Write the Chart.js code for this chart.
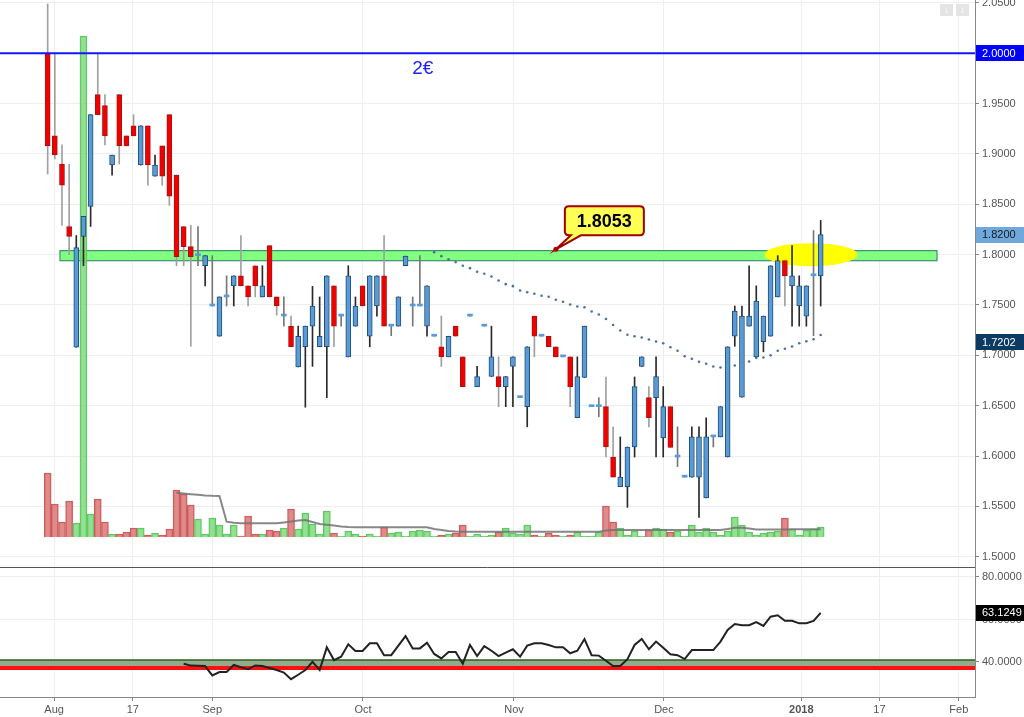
<!DOCTYPE html>
<html>
<head>
<meta charset="utf-8">
<title>Candlestick chart with volume and RSI</title>
<style>
    body { margin: 0; background: #fff; }
    #priceChart { position: absolute; left: 0; top: 0; }
    #rsiChart { position: absolute; left: 0; top: 567px; }
</style>
<script src="https://cdn.jsdelivr.net/npm/chart.js"></script>
</head>
<body>
<canvas id="priceChart" width="1024" height="567"></canvas>
<canvas id="rsiChart" width="1024" height="150"></canvas>
<script>
// daily candles, one per trading day (index 0 = first bar, end of July 2017)
const opens = [2.000, 1.918, 1.890, 1.828, 1.708, 1.818, 1.848, 1.959, 1.948, 1.889,
    1.959, 1.918, 1.928, 1.889, 1.928, 1.878, 1.908, 1.939, 1.879, 1.828,
    1.808, 1.799, 1.789, 1.749, 1.719, 1.758, 1.769, 1.779, 1.769, 1.789,
    1.758, 1.809, 1.758, 1.739, 1.729, 1.6885, 1.7085, 1.729, 1.7085, 1.7085,
    1.769, 1.739, 1.6985, 1.729, 1.769, 1.719, 1.749, 1.779, 1.729, 1.729,
    1.789, 1.749, 1.749, 1.729, 1.719, 1.7085, 1.6985, 1.729, 1.6985, 1.739,
    1.669, 1.729, 1.679, 1.679, 1.669, 1.689, 1.658, 1.649, 1.739, 1.719,
    1.719, 1.7085, 1.6985, 1.6985, 1.638, 1.678, 1.649, 1.649, 1.649, 1.599,
    1.5695, 1.5695, 1.609, 1.689, 1.658, 1.658, 1.618, 1.649, 1.599, 1.579,
    1.579, 1.579, 1.5585, 1.619, 1.619, 1.599, 1.719, 1.6585, 1.729, 1.6985,
    1.7135, 1.719, 1.758, 1.794, 1.769, 1.749, 1.739, 1.779, 1.779];
const highs = [2.049, 1.999, 1.909, 1.890, 1.819, 1.838, 1.939, 1.999, 1.959, 1.899,
    1.959, 1.918, 1.939, 1.928, 1.928, 1.899, 1.908, 1.939, 1.879, 1.828,
    1.829, 1.828, 1.799, 1.799, 1.758, 1.779, 1.779, 1.819, 1.769, 1.789,
    1.789, 1.809, 1.758, 1.758, 1.739, 1.729, 1.729, 1.7685, 1.758, 1.779,
    1.769, 1.739, 1.789, 1.758, 1.769, 1.779, 1.779, 1.819, 1.729, 1.758,
    1.7985, 1.758, 1.799, 1.769, 1.719, 1.739, 1.719, 1.729, 1.6985, 1.739,
    1.689, 1.729, 1.729, 1.6985, 1.679, 1.6985, 1.658, 1.7085, 1.739, 1.719,
    1.719, 1.7085, 1.6985, 1.6985, 1.6985, 1.729, 1.649, 1.658, 1.6785, 1.629,
    1.619, 1.609, 1.6785, 1.6985, 1.669, 1.6985, 1.669, 1.649, 1.629, 1.579,
    1.629, 1.629, 1.638, 1.619, 1.649, 1.7085, 1.749, 1.749, 1.789, 1.769,
    1.739, 1.789, 1.799, 1.794, 1.809, 1.779, 1.769, 1.824, 1.834];
const lows = [1.880, 1.895, 1.829, 1.800, 1.708, 1.789, 1.828, 1.939, 1.909, 1.879,
    1.890, 1.908, 1.918, 1.889, 1.869, 1.878, 1.869, 1.849, 1.789, 1.789,
    1.709, 1.789, 1.769, 1.749, 1.719, 1.749, 1.749, 1.769, 1.749, 1.758,
    1.758, 1.758, 1.740, 1.729, 1.7085, 1.6885, 1.6485, 1.689, 1.7085, 1.658,
    1.7085, 1.729, 1.6985, 1.729, 1.749, 1.7085, 1.739, 1.729, 1.7195, 1.729,
    1.789, 1.729, 1.749, 1.719, 1.719, 1.689, 1.6985, 1.719, 1.669, 1.739,
    1.669, 1.729, 1.679, 1.649, 1.649, 1.649, 1.658, 1.629, 1.6985, 1.719,
    1.7085, 1.6985, 1.6985, 1.649, 1.638, 1.678, 1.649, 1.639, 1.599, 1.579,
    1.5695, 1.549, 1.599, 1.689, 1.629, 1.599, 1.599, 1.6085, 1.5895, 1.579,
    1.579, 1.539, 1.5585, 1.609, 1.619, 1.599, 1.709, 1.6585, 1.729, 1.6985,
    1.7035, 1.719, 1.758, 1.749, 1.729, 1.729, 1.729, 1.7195, 1.749];
const closes = [1.908, 1.899, 1.869, 1.818, 1.807, 1.838, 1.939, 1.939, 1.918, 1.899,
    1.908, 1.908, 1.918, 1.928, 1.889, 1.889, 1.878, 1.858, 1.798, 1.808,
    1.798, 1.799, 1.799, 1.749, 1.758, 1.758, 1.779, 1.769, 1.758, 1.769,
    1.769, 1.758, 1.749, 1.739, 1.7085, 1.719, 1.729, 1.749, 1.719, 1.779,
    1.729, 1.739, 1.779, 1.749, 1.749, 1.779, 1.779, 1.729, 1.729, 1.758,
    1.7985, 1.749, 1.749, 1.769, 1.719, 1.6985, 1.719, 1.719, 1.669, 1.739,
    1.679, 1.729, 1.6985, 1.669, 1.679, 1.6985, 1.658, 1.7085, 1.719, 1.719,
    1.7085, 1.6985, 1.6985, 1.669, 1.679, 1.729, 1.649, 1.649, 1.609, 1.579,
    1.579, 1.609, 1.669, 1.6985, 1.638, 1.679, 1.649, 1.6085, 1.599, 1.579,
    1.619, 1.619, 1.619, 1.619, 1.649, 1.7085, 1.744, 1.739, 1.739, 1.754,
    1.739, 1.789, 1.794, 1.779, 1.779, 1.769, 1.769, 1.779, 1.820];

// volume (relative units), same bars
const volume = [64, 33, 15, 36, 14, 501, 23, 38, 15, 3,
    3, 5, 9, 9, 2, 4, 2, 8, 47, 43,
    32, 18, 3, 19, 12, 3, 12, 1, 21, 3,
    3, 7, 6, 9, 28, 8, 24, 13, 3, 26,
    4, 1, 6, 3, 1, 3, 1, 10, 4, 5,
    1, 6, 7, 6, 1, 2, 3, 4, 12, 1,
    3, 1, 2, 5, 9, 4, 3, 12, 2, 1,
    4, 2, 1, 2, 5, 1, 1, 5, 31, 15,
    9, 2, 6, 1, 7, 9, 8, 5, 6, 1,
    12, 5, 9, 5, 2, 6, 20, 12, 5, 2,
    4, 5, 6, 19, 8, 2, 7, 8, 10];

// volume moving average, starts at bar 18
const volMAStart = 18;
const volMA = [44.3, 43.5, 42.8, 42.2, 41.6, 41.2, 41.0, 15.3, 14.2, 13.7,
    13.7, 13.7, 13.7, 13.7, 13.7, 14.6, 15.6, 16.5, 17.0, 15.0,
    13.0, 12.3, 11.5, 10.6, 10.0, 9.7, 9.7, 9.7, 9.7, 9.7,
    9.7, 9.7, 9.7, 9.7, 9.7, 9.7, 8.0, 7.0, 6.0, 5.4,
    5.3, 5.3, 5.3, 5.3, 5.3, 5.3, 5.3, 5.3, 5.3, 5.3,
    5.3, 5.3, 5.3, 5.3, 5.3, 5.3, 5.3, 5.3, 5.3, 5.3,
    6.5, 7.0, 7.0, 7.0, 7.0, 7.0, 7.0, 7.0, 7.0, 7.0,
    7.0, 7.0, 7.0, 7.0, 7.0, 7.0, 7.0, 8.0, 9.3, 9.3,
    8.5, 7.5, 7.5, 7.5, 7.5, 7.5, 7.7, 7.7, 7.7, 7.7, 7.7];

// dotted price moving average, starts at bar 54
const maStart = 54;
const priceMA = [1.8025, 1.7985, 1.7955, 1.7926, 1.7890, 1.7866, 1.7830, 1.7810, 1.7783, 1.7744,
    1.7707, 1.7687, 1.7644, 1.7627, 1.7611, 1.7592, 1.7582, 1.7552, 1.7532, 1.7505,
    1.7485, 1.7478, 1.7436, 1.7406, 1.7361, 1.7301, 1.7247, 1.7204, 1.7190, 1.7177,
    1.7157, 1.7137, 1.7120, 1.7081, 1.7045, 1.6991, 1.6965, 1.6936, 1.6916, 1.6889,
    1.6879, 1.6889, 1.6899, 1.6919, 1.6939, 1.6975, 1.6978, 1.7001, 1.7045, 1.7065,
    1.7088, 1.7120, 1.7140, 1.7160, 1.7202];

// RSI, starts at bar 19
const rsiStart = 19;
const rsi = [39.2, 38.3, 38.2, 38.1, 33.7, 35.3, 35.3, 38.6, 37.5, 36.6,
    38.4, 38.1, 37.2, 36.2, 35.0, 31.9, 34.0, 36.2, 40.1, 36.2,
    46.9, 40.9, 42.5, 48.3, 45.2, 45.2, 48.8, 48.8, 43.2, 43.2,
    47.7, 52.2, 46.4, 46.4, 49.1, 43.8, 41.7, 44.7, 44.7, 39.2,
    48.0, 42.8, 47.5, 45.3, 42.8, 44.4, 46.0, 42.5, 47.7, 48.8,
    48.8, 48.0, 46.9, 46.9, 44.1, 45.3, 50.8, 43.2, 43.0, 40.6,
    38.1, 38.1, 41.3, 48.0, 50.8, 46.0, 49.6, 46.7, 43.6, 43.2,
    41.4, 45.6, 45.6, 45.6, 45.6, 49.6, 55.1, 57.9, 57.3, 57.3,
    58.8, 57.0, 61.3, 62.0, 59.4, 59.4, 58.2, 58.2, 59.3, 63.1249];

// axis ticks
const priceTicks = [1.50, 1.55, 1.60, 1.65, 1.70, 1.75, 1.80, 1.85, 1.90, 1.95, 2.00, 2.05];
const rsiTicks = [40, 60, 80];
const dateTickPos = [0.9, 11.9, 23, 44.05, 65.15, 86.1, 105.3, 116.2, 127.3];
const dateTickLabels = ['Aug', '17', 'Sep', 'Oct', 'Nov', 'Dec', '2018', '17', 'Feb'];

// drawn levels / notes
const levelPrice = 2.0;
const levelText = '2€';
const zoneLow = 1.794, zoneHigh = 1.804;
const zoneFrom = 1.72, zoneTo = 124.25;
const calloutBar = 71.0, calloutPrice = 1.8053;
const lastClose = closes[closes.length - 1];
const lastMA = priceMA[priceMA.length - 1];
const rsiZone = [38.1, 40.9];
const rsiRedLevel = 37.2;

const FONT = '"Liberation Sans", Arial, sans-serif';
Chart.defaults.font.family = FONT;
Chart.defaults.animation = false;

const bars = opens.map((_, i) => i);
const dir = i => closes[i] > opens[i] ? 1 : (closes[i] < opens[i] ? -1 : 0);

const xMin = -6.66, xMax = 129.56;

// kill the extra room chart.js keeps for half-labels at the edges
function noPad(s) {
    s.paddingTop = 0;
    s.paddingBottom = 0;
    s.paddingLeft = 0;
    s.paddingRight = 0;
}

function xAxis(withLabels) {
    return {
        type: 'linear',
        min: xMin,
        max: xMax,
        offset: false,
        afterBuildTicks: s => { s.ticks = dateTickPos.map(v => ({ value: v })); },
        grid: { color: '#eeeeee', offset: false, drawTicks: withLabels, tickLength: 4, tickColor: '#888' },
        border: { display: withLabels, color: '#888' },
        ticks: {
            display: withLabels,
            autoSkip: false,
            maxRotation: 0,
            padding: 2,
            color: '#555',
            font: c => ({ family: FONT, size: 11, weight: c.index === 6 ? 'bold' : 'normal' }),
            callback: (v, i) => dateTickLabels[i]
        },
        afterFit: s => { s.height = withLabels ? 20 : 0; noPad(s); }
    };
}

function yAxis(min, max, tickValues) {
    return {
        position: 'right',
        min: min,
        max: max,
        afterBuildTicks: s => { s.ticks = tickValues.map(v => ({ value: v })); },
        ticks: { color: '#555', padding: 3, font: { size: 11 }, callback: v => v.toFixed(4) },
        grid: { color: '#eeeeee', tickLength: 4, tickColor: '#888' },
        border: { color: '#888' },
        afterFit: s => { s.width = 49; noPad(s); }
    };
}

function priceTag(ctx, yPix, text, bg, fg) {
    ctx.fillStyle = bg;
    ctx.fillRect(976, Math.round(yPix - 8), 48, 16);
    ctx.fillStyle = fg;
    ctx.font = '11px ' + FONT;
    ctx.textAlign = 'left';
    ctx.textBaseline = 'middle';
    ctx.fillText(text, 982, yPix + 0.5);
}

const priceDecor = {
    id: 'priceDecor',
    beforeDatasetsDraw(chart) {
        const { ctx, scales: { x, y } } = chart;
        ctx.save();
        // support zone
        const x0 = x.getPixelForValue(zoneFrom), x1 = x.getPixelForValue(zoneTo);
        const y0 = y.getPixelForValue(zoneHigh), y1 = y.getPixelForValue(zoneLow);
        ctx.fillStyle = '#80ff80';
        ctx.fillRect(x0, y0, x1 - x0, y1 - y0);
        ctx.strokeStyle = '#3f8f6f';
        ctx.lineWidth = 1.2;
        ctx.strokeRect(x0, y0, x1 - x0, y1 - y0);
        // yellow highlight
        const ex = x.getPixelForValue(106.65), ey = y.getPixelForValue(1.8);
        ctx.fillStyle = '#ffff00';
        ctx.beginPath();
        ctx.ellipse(ex, ey, 46.5, 11.5, 0, 0, Math.PI * 2);
        ctx.fill();
        ctx.restore();
    },
    afterDatasetsDraw(chart) {
        const { ctx, chartArea: a, scales: { x, y } } = chart;
        ctx.save();
        // 2€ level
        const ly = y.getPixelForValue(levelPrice);
        ctx.strokeStyle = '#1515ff';
        ctx.lineWidth = 2;
        ctx.beginPath();
        ctx.moveTo(a.left, ly);
        ctx.lineTo(a.right, ly);
        ctx.stroke();
        ctx.fillStyle = '#2020ff';
        ctx.font = '19px ' + FONT;
        ctx.textAlign = 'center';
        ctx.textBaseline = 'middle';
        ctx.fillText(levelText, x.getPixelForValue(52.4), ly + 15);

        // callout
        const ax = x.getPixelForValue(calloutBar), ay = y.getPixelForValue(calloutPrice);
        const bx = ax + 9, by = ay - 43, bw = 79, bh = 29, r = 4;
        ctx.beginPath();
        ctx.moveTo(bx + r, by);
        ctx.lineTo(bx + bw - r, by);
        ctx.quadraticCurveTo(bx + bw, by, bx + bw, by + r);
        ctx.lineTo(bx + bw, by + bh - r);
        ctx.quadraticCurveTo(bx + bw, by + bh, bx + bw - r, by + bh);
        ctx.lineTo(bx + 16, by + bh);
        ctx.lineTo(ax, ay);
        ctx.lineTo(bx + 6, by + bh);
        ctx.lineTo(bx + r, by + bh);
        ctx.quadraticCurveTo(bx, by + bh, bx, by + bh - r);
        ctx.lineTo(bx, by + r);
        ctx.quadraticCurveTo(bx, by, bx + r, by);
        ctx.closePath();
        ctx.fillStyle = '#ffff55';
        ctx.fill();
        ctx.strokeStyle = '#a00000';
        ctx.lineWidth = 2;
        ctx.stroke();
        ctx.fillStyle = '#b00000';
        ctx.beginPath();
        ctx.arc(ax, ay, 2.5, 0, Math.PI * 2);
        ctx.fill();
        ctx.fillStyle = '#000';
        ctx.font = 'bold 18px ' + FONT;
        ctx.fillText(calloutPrice.toFixed(4), bx + bw / 2, by + bh / 2 + 1);
        ctx.restore();
    },
    afterDraw(chart) {
        const { ctx, scales: { y } } = chart;
        ctx.save();
        priceTag(ctx, y.getPixelForValue(levelPrice), levelPrice.toFixed(4), '#0000ff', '#fff');
        priceTag(ctx, y.getPixelForValue(lastClose), lastClose.toFixed(4), '#6fa8dc', '#1a1a1a');
        priceTag(ctx, y.getPixelForValue(lastMA) + 7, lastMA.toFixed(4), '#0b3a63', '#fff');
        // small buttons top right
        ctx.fillStyle = '#e4e4e4';
        ctx.fillRect(940, 4, 13, 12);
        ctx.fillRect(956, 4, 13, 12);
        ctx.fillStyle = '#fff';
        ctx.font = '10px ' + FONT;
        ctx.textAlign = 'center';
        ctx.textBaseline = 'middle';
        ctx.fillText('↓', 946.5, 10);
        ctx.fillText('↕', 962.5, 10);
        ctx.restore();
    }
};

new Chart(document.getElementById('priceChart'), {
    type: 'bar',
    data: {
        datasets: [
            {
                label: 'bodies',
                order: 1,
                grouped: false,
                barThickness: 5,
                minBarLength: 2,
                borderSkipped: false,
                data: bars.map(i => ({ x: i, y: [opens[i], closes[i]] })),
                backgroundColor: bars.map(i => dir(i) < 0 ? '#f20000' : '#5b9bd5'),
                borderColor: bars.map(i => dir(i) > 0 ? '#1f4e79' : (dir(i) < 0 ? '#a31515' : 'rgba(0,0,0,0)')),
                borderWidth: bars.map(i => dir(i) === 0 ? 0 : 1)
            },
            {
                label: 'wicks',
                order: 2,
                grouped: false,
                barThickness: 1,
                data: bars.map(i => ({ x: i, y: [lows[i], highs[i]] })),
                backgroundColor: bars.map(i => dir(i) > 0 ? '#2a2a2a' : (dir(i) < 0 ? '#a0a0a0' : '#777'))
            },
            {
                type: 'line',
                label: 'MA',
                order: 3,
                showLine: false,
                pointRadius: 1.3,
                pointBorderWidth: 0,
                pointBackgroundColor: '#4a72a0',
                data: priceMA.map((v, k) => ({ x: maStart + k, y: v }))
            },
            {
                type: 'line',
                label: 'volume MA',
                yAxisID: 'yv',
                order: 9,
                borderColor: 'rgba(115,115,115,0.85)',
                borderWidth: 2,
                pointRadius: 0,
                data: volMA.map((v, k) => ({ x: volMAStart + k, y: v }))
            },
            {
                label: 'volume',
                yAxisID: 'yv',
                order: 10,
                grouped: false,
                barThickness: 7,
                borderSkipped: 'start',
                borderWidth: 1,
                data: bars.map(i => ({ x: i, y: volume[i] })),
                backgroundColor: bars.map(i => dir(i) < 0 ? 'rgba(215,110,110,0.8)' : 'rgba(120,215,120,0.8)'),
                borderColor: bars.map(i => dir(i) < 0 ? '#cf5a5a' : '#5cc65c')
            }
        ]
    },
    options: {
        responsive: false,
        layout: { padding: 0, autoPadding: false },
        plugins: { legend: { display: false }, tooltip: { enabled: false } },
        scales: {
            x: xAxis(false),
            y: yAxis(1.4898, 2.0529, priceTicks),
            yv: { display: false, min: -30, max: 537 }
        }
    },
    plugins: [priceDecor]
});

const rsiDecor = {
    id: 'rsiDecor',
    beforeDatasetsDraw(chart) {
        const { ctx, chartArea: a, scales: { y } } = chart;
        ctx.save();
        const t = y.getPixelForValue(rsiZone[1]), b = y.getPixelForValue(rsiZone[0]);
        ctx.fillStyle = '#93aa8b';
        ctx.fillRect(a.left, t, a.right - a.left, b - t);
        ctx.strokeStyle = '#2d5b20';
        ctx.lineWidth = 1.5;
        ctx.beginPath();
        ctx.moveTo(a.left, t);
        ctx.lineTo(a.right, t);
        ctx.stroke();
        const ry = y.getPixelForValue(rsiRedLevel);
        ctx.strokeStyle = '#ff1010';
        ctx.lineWidth = 4;
        ctx.beginPath();
        ctx.moveTo(a.left, ry);
        ctx.lineTo(a.right, ry);
        ctx.stroke();
        ctx.restore();
    },
    afterDraw(chart) {
        const { ctx, chartArea: a, scales: { y } } = chart;
        ctx.save();
        // panel separator
        ctx.strokeStyle = '#555';
        ctx.lineWidth = 1;
        ctx.beginPath();
        ctx.moveTo(a.left, 0.5);
        ctx.lineTo(a.right, 0.5);
        ctx.stroke();
        const last = rsi[rsi.length - 1];
        priceTag(ctx, y.getPixelForValue(last), last.toFixed(4), '#000', '#fff');
        ctx.restore();
    }
};

new Chart(document.getElementById('rsiChart'), {
    type: 'line',
    data: {
        datasets: [{
            label: 'RSI',
            borderColor: '#222',
            borderWidth: 2,
            pointRadius: 0,
            data: rsi.map((v, k) => ({ x: rsiStart + k, y: v }))
        }]
    },
    options: {
        responsive: false,
        layout: { padding: 0, autoPadding: false },
        plugins: { legend: { display: false }, tooltip: { enabled: false } },
        scales: {
            x: xAxis(true),
            y: yAxis(23.53, 84.7, rsiTicks)
        }
    },
    plugins: [rsiDecor]
});
</script>
</body>
</html>
